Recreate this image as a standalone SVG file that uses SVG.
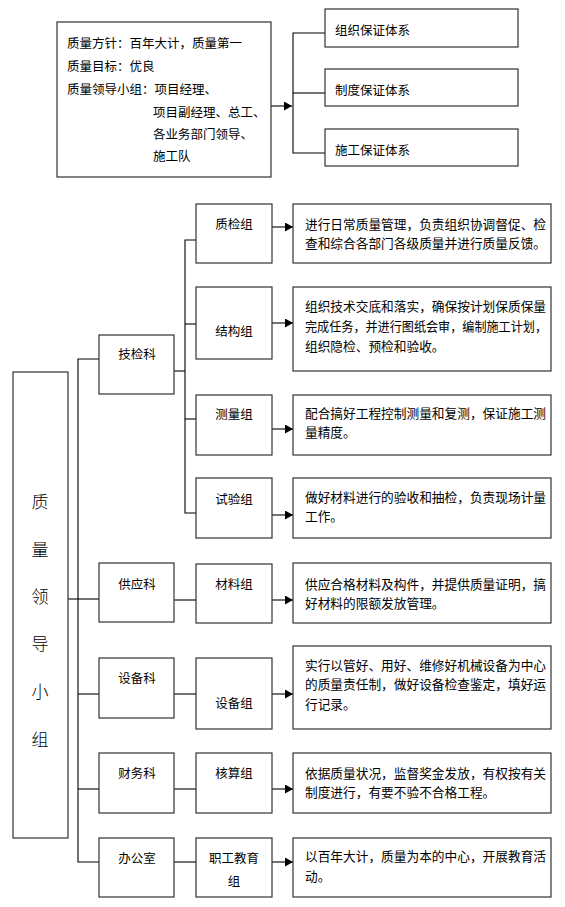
<svg xmlns="http://www.w3.org/2000/svg" width="565" height="907" viewBox="0 0 565 907">
<style>
.box{fill:#fff;stroke:#333;stroke-width:1.2}
.ln{fill:none;stroke:#000;stroke-width:1.1}
.ar{fill:none;stroke:#000;stroke-width:1.1;marker-end:url(#ah)}
text{font-family:"Noto Sans CJK SC","Liberation Sans",sans-serif;font-size:12.5px;fill:#000;dominant-baseline:central}
.c{text-anchor:middle}
.big{font-size:17px;font-weight:300}
.d{font-size:12.7px}
</style>
<defs>
<marker id="ah" markerUnits="userSpaceOnUse" markerWidth="8" markerHeight="9" refX="8" refY="4.5" orient="auto">
<path d="M0,0 L8,4.5 L0,9 z" fill="#000"/>
</marker>
</defs>
<rect width="565" height="907" fill="#fff"/>
<g id="connectors">
<line class="ar" x1="271" y1="106" x2="292" y2="106"/>
<polyline class="ln" points="325,33 293,33 293,153 325,153"/>
<line class="ln" x1="293" y1="93" x2="325" y2="93"/>
<polyline class="ln" points="196,240 185,240 185,513 196,513"/>
<line class="ln" x1="185" y1="324" x2="196" y2="324"/>
<line class="ln" x1="185" y1="419" x2="196" y2="419"/>
<line class="ln" x1="174" y1="371" x2="185" y2="371"/>
<polyline class="ln" points="99,359 78,359 78,862 99,862"/>
<line class="ln" x1="68" y1="599" x2="99" y2="599"/>
<line class="ln" x1="78" y1="694" x2="99" y2="694"/>
<line class="ln" x1="78" y1="789" x2="99" y2="789"/>
<line class="ln" x1="174" y1="600" x2="196" y2="600"/>
<line class="ln" x1="174" y1="694" x2="196" y2="694"/>
<line class="ln" x1="174" y1="789" x2="196" y2="789"/>
<line class="ln" x1="174" y1="862" x2="196" y2="862"/>
<line class="ar" x1="272" y1="227" x2="293" y2="227"/>
<line class="ar" x1="272" y1="323" x2="293" y2="323"/>
<line class="ar" x1="272" y1="429" x2="293" y2="429"/>
<line class="ar" x1="272" y1="515" x2="293" y2="515"/>
<line class="ar" x1="272" y1="600" x2="293" y2="600"/>
<line class="ar" x1="272" y1="694" x2="293" y2="694"/>
<line class="ar" x1="272" y1="789" x2="293" y2="789"/>
<line class="ar" x1="272" y1="862" x2="293" y2="862"/>
</g>
<g id="policy">
<rect class="box" x="57" y="22" width="214" height="155"/>
<text x="67" y="42">质量方针：百年大计，质量第一</text>
<text x="67" y="65">质量目标：优良</text>
<text x="67" y="88">质量领导小组：项目经理、</text>
<text x="153" y="111">项目副经理、总工、</text>
<text x="153" y="133">各业务部门领导、</text>
<text x="153" y="155">施工队</text>
</g>
<g id="sys1"><rect class="box" x="325" y="9" width="193" height="38"/><text x="335" y="29">组织保证体系</text></g>
<g id="sys2"><rect class="box" x="325" y="69" width="193" height="37"/><text x="335" y="89">制度保证体系</text></g>
<g id="sys3"><rect class="box" x="325" y="129" width="193" height="37"/><text x="335" y="149">施工保证体系</text></g>
<g id="leader">
<rect class="box" x="13" y="372" width="55" height="466"/>
<text class="c big" x="40" y="500">质</text>
<text class="c big" x="40" y="548">量</text>
<text class="c big" x="40" y="595">领</text>
<text class="c big" x="40" y="642">导</text>
<text class="c big" x="40" y="690">小</text>
<text class="c big" x="40" y="738">组</text>
</g>
<g id="jijianke"><rect class="box" x="99" y="335" width="75" height="59"/><text class="c" x="137" y="353">技检科</text></g>
<g id="gongyingke"><rect class="box" x="99" y="563" width="75" height="59"/><text class="c" x="137" y="583">供应科</text></g>
<g id="shebeike"><rect class="box" x="99" y="658" width="75" height="60"/><text class="c" x="137" y="677">设备科</text></g>
<g id="caiwuke"><rect class="box" x="99" y="753" width="75" height="60"/><text class="c" x="137" y="772">财务科</text></g>
<g id="bangongshi"><rect class="box" x="99" y="838" width="75" height="59"/><text class="c" x="137" y="857">办公室</text></g>
<g id="zhijianzu"><rect class="box" x="196" y="204" width="76" height="59"/><text class="c" x="234" y="223">质检组</text></g>
<g id="jiegouzu"><rect class="box" x="196" y="287" width="76" height="72"/><text class="c" x="234" y="330">结构组</text></g>
<g id="celiangzu"><rect class="box" x="196" y="395" width="76" height="60"/><text class="c" x="234" y="413">测量组</text></g>
<g id="shiyanzu"><rect class="box" x="196" y="478" width="76" height="60"/><text class="c" x="234" y="498">试验组</text></g>
<g id="cailiaozu"><rect class="box" x="196" y="564" width="76" height="59"/><text class="c" x="234" y="583">材料组</text></g>
<g id="shebeizu"><rect class="box" x="196" y="658" width="76" height="71"/><text class="c" x="234" y="702">设备组</text></g>
<g id="hesuanzu"><rect class="box" x="196" y="753" width="76" height="60"/><text class="c" x="234" y="772">核算组</text></g>
<g id="jiaoyuzu"><rect class="box" x="196" y="838" width="76" height="59"/><text class="c" x="234" y="857">职工教育</text><text class="c" x="234" y="880">组</text></g>
<g id="desc1"><rect class="box" x="293" y="204" width="258" height="59"/>
<text class="d" x="305" y="223">进行日常质量管理，负责组织协调督促、检</text>
<text class="d" x="305" y="242">查和综合各部门各级质量并进行质量反馈。</text></g>
<g id="desc2"><rect class="box" x="293" y="287" width="258" height="84"/>
<text class="d" x="305" y="305">组织技术交底和落实，确保按计划保质保量</text>
<text class="d" x="305" y="325" textLength="242" lengthAdjust="spacingAndGlyphs">完成任务，并进行图纸会审，编制施工计划，</text>
<text class="d" x="305" y="345">组织隐检、预检和验收。</text></g>
<g id="desc3"><rect class="box" x="293" y="395" width="258" height="60"/>
<text class="d" x="305" y="412">配合搞好工程控制测量和复测，保证施工测</text>
<text class="d" x="305" y="431">量精度。</text></g>
<g id="desc4"><rect class="box" x="293" y="478" width="258" height="60"/>
<text class="d" x="305" y="496">做好材料进行的验收和抽检，负责现场计量</text>
<text class="d" x="305" y="515">工作。</text></g>
<g id="desc5"><rect class="box" x="293" y="563" width="258" height="60"/>
<text class="d" x="305" y="583">供应合格材料及构件，并提供质量证明，搞</text>
<text class="d" x="305" y="602">好材料的限额发放管理。</text></g>
<g id="desc6"><rect class="box" x="293" y="646" width="258" height="83"/>
<text class="d" x="305" y="664">实行以管好、用好、维修好机械设备为中心</text>
<text class="d" x="305" y="683">的质量责任制，做好设备检查鉴定，填好运</text>
<text class="d" x="305" y="703">行记录。</text></g>
<g id="desc7"><rect class="box" x="293" y="753" width="258" height="60"/>
<text class="d" x="305" y="772">依据质量状况，监督奖金发放，有权按有关</text>
<text class="d" x="305" y="791">制度进行，有要不验不合格工程。</text></g>
<g id="desc8"><rect class="box" x="293" y="838" width="258" height="59"/>
<text class="d" x="305" y="855">以百年大计，质量为本的中心，开展教育活</text>
<text class="d" x="305" y="875">动。</text></g>
</svg>
